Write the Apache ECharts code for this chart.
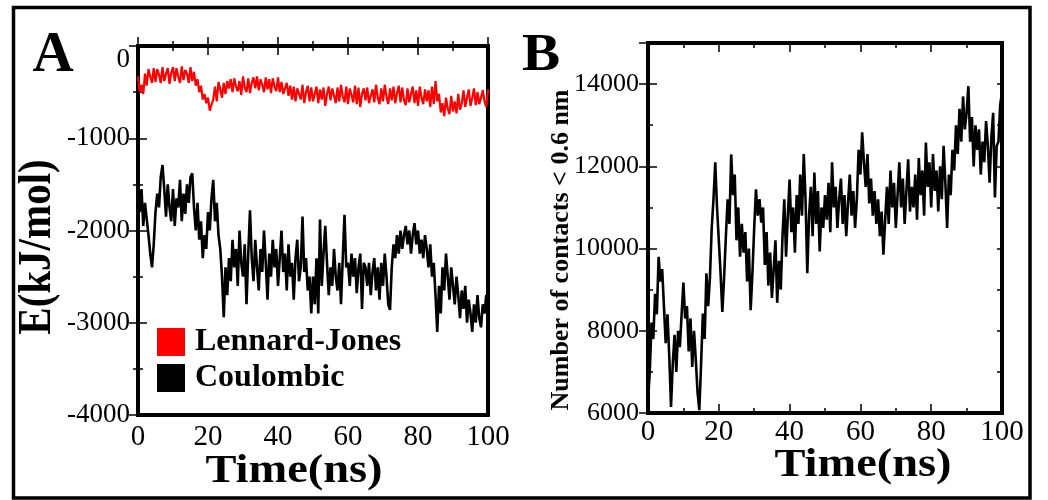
<!DOCTYPE html>
<html>
<head>
<meta charset="utf-8">
<script src="https://cdn.jsdelivr.net/npm/echarts@6/dist/echarts.min.js"></script>
<style>
html,body{margin:0;padding:0;background:#fff;}
#chart{width:1048px;height:500px;}
</style>
</head>
<body>
<div id="chart"></div>
<script>
const TIME_STEP_NS = 0.5;
const xTicks = [0, 20, 40, 60, 80, 100];
const yTicksEnergy = [0, -1000, -2000, -3000, -4000];
const yTicksContacts = [6000, 8000, 10000, 12000, 14000];
const seriesNames = ['Lennard-Jones', 'Coulombic'];

const lennardJones = [
  -330, -500, -420, -520, -300, -430, -250, -330, -400, -240,
  -390, -250, -310, -400, -230, -380, -300, -240, -410, -290,
  -230, -380, -240, -330, -400, -220, -370, -260, -300, -400,
  -230, -380, -280, -430, -360, -500, -430, -580, -520, -620,
  -560, -700, -640, -580, -440, -600, -390, -470, -560, -400,
  -520, -380, -460, -360, -500, -350, -440, -490, -380, -530,
  -330, -450, -500, -350, -510, -400, -340, -460, -330, -480,
  -360, -420, -500, -340, -470, -360, -510, -350, -440, -490,
  -340, -500, -390, -520, -460, -400, -540, -430, -580, -440,
  -600, -460, -520, -580, -420, -620, -500, -430, -600, -450,
  -600, -520, -440, -620, -470, -580, -450, -650, -520, -440,
  -590, -460, -540, -620, -450, -600, -420, -550, -610, -440,
  -630, -460, -530, -610, -430, -630, -450, -660, -520, -460,
  -590, -450, -620, -540, -470, -610, -420, -560, -630, -460,
  -600, -420, -550, -630, -460, -590, -440, -620, -510, -430,
  -610, -450, -590, -640, -460, -610, -520, -440, -620, -480,
  -650, -440, -560, -630, -470, -600, -480, -660, -440, -630,
  -380, -600, -520, -720, -620, -760, -560, -680, -740, -540,
  -710, -600, -730, -520, -690, -620, -480, -660, -560, -470,
  -650, -560, -460, -640, -500, -630, -560, -480, -600, -660,
  -470
];

const coulombic = [
  -1450, -1800, -1550, -1950, -1700, -1880, -2050, -2250, -2400, -2150,
  -1800, -1600, -1750, -1420, -1290, -1550, -1850, -1500, -1750, -1900,
  -1550, -1950, -1650, -1750, -1450, -1900, -1600, -1820, -1500, -1700,
  -1420, -1380, -1750, -2000, -1700, -2100, -1900, -2300, -2050, -2200,
  -1800, -2000, -1650, -1450, -1900, -1700, -2050, -2200, -2500, -2940,
  -2400, -2700, -2300, -2550, -2100, -2400, -2200, -2600, -2000, -2350,
  -2500, -2150, -2800, -2250, -1780, -2300, -2550, -2100, -2400, -2650,
  -2200, -2450, -2000, -2350, -2750, -2250, -2500, -2100, -2400, -2200,
  -2600, -2300, -2000, -2450, -2250, -2650, -2150, -2500, -2350, -2750,
  -2300, -2100, -2550, -2400, -1850, -2450, -2300, -2650, -2500, -2900,
  -2500, -2800, -2300, -2900, -1880, -2600, -2250, -1950, -2350, -2700,
  -2400, -2600, -2200, -2500, -2650, -2350, -2800, -2300, -1830, -2400,
  -2350, -2600, -2250, -2500, -2300, -2680, -2400, -2250, -2850, -2350,
  -2400, -2600, -2350, -2700, -2450, -2300, -2650, -2400, -2750, -2350,
  -2600, -2250, -2500, -2800, -2860, -2400, -2150, -2300, -2050, -2250,
  -2000, -2200, -2050, -1950, -2150, -2000, -2250, -2050, -1920, -2150,
  -2000, -2250, -2100, -2300, -2050, -2200, -2400, -2150, -2500, -2350,
  -2700, -3100, -2600, -2900, -2400, -2650, -2250, -2500, -2750, -2400,
  -2600, -2800, -2500, -2700, -2950, -2650, -2850, -2600, -3000, -2750,
  -2900, -3100, -2800, -3000, -2700, -2950, -3050, -2800, -2900, -2700,
  -2750
];

const contacts = [
  6300, 7000, 8200, 7800, 8900, 8400, 9800, 9200, 9500, 8600,
  7700, 8400, 7400, 6150, 7200, 7900, 7000, 8000, 7600, 8400,
  9170, 8300, 8600, 7500, 8300, 7120, 8000, 7300, 6500, 6070,
  7200, 8420, 7800, 9400, 8600, 9300, 10500, 11200, 12100, 11000,
  10200, 9400, 8460, 9300, 10300, 11200, 10600, 12290, 11300, 11800,
  10200, 11000, 9800, 10600, 9900, 10400, 9200, 10000, 8500, 9400,
  10500, 11440, 10800, 11200, 10630, 11000, 9600, 10400, 9100, 9900,
  8800, 9500, 10200, 8680, 9700, 9000, 10300, 11200, 9800, 10800,
  11680, 10400, 11000, 9900, 11300, 10600, 11800, 10800, 12300, 11200,
  9400, 10800, 11500, 10300, 11850, 10600, 11400, 9930, 11000, 10500,
  11300, 10700, 11600, 10400, 12100, 11000, 11500, 10500, 11200, 11700,
  10600, 11300, 10300, 11100, 11800, 10800, 11400, 10500, 11200, 12400,
  11800, 12830, 12100, 11500, 12300, 11100, 11700, 10800, 11400, 10600,
  11200, 10300, 10900, 9850, 10700, 11500, 10600, 11900, 11000, 11600,
  10500, 11300, 12100, 11000, 11700, 10600, 11400, 12170, 10900, 11500,
  11000, 11800, 10700, 12200, 11300, 11900, 10800, 12580, 11500, 12100,
  11000, 12300, 11400, 11900, 10900, 12000, 11200, 12500, 11600, 10500,
  11800, 11300, 12400, 11900, 13000, 12300, 13400, 12600, 13700, 12900,
  13300, 13950, 12600, 13200, 12000, 13000, 12400, 12900, 11800, 12600,
  12100, 13100, 12500, 11600, 12700, 13300, 11240, 12500, 12600, 13500,
  13800
];

// ---- Build chart ----
const SERIF = '"Liberation Serif", "Times New Roman", serif';
const pairs = arr => arr.map((v, i) => [i * TIME_STEP_NS, v]);
const plain = v => String(v);
const tickStyle = { color: '#000', width: 1.5 };

function xAx(grid, pos, labels, margin) {
  return {
    type: 'value', gridIndex: grid, position: pos,
    min: xTicks[0], max: xTicks[xTicks.length - 1], interval: xTicks[1] - xTicks[0],
    axisLine: { show: false },
    axisTick: { show: true, inside: true, length: 9, lineStyle: tickStyle },
    minorTick: { show: true, splitNumber: 2, length: 5, lineStyle: tickStyle },
    splitLine: { show: false }, minorSplitLine: { show: false },
    axisLabel: { show: labels, color: '#000', fontFamily: SERIF, fontSize: 29, margin: margin || 5, formatter: plain }
  };
}
function yAx(grid, pos, opts) {
  return Object.assign({
    type: 'value', gridIndex: grid, position: pos,
    axisLine: { show: false },
    splitLine: { show: false }, minorSplitLine: { show: false },
  }, opts);
}

const option = {
  animation: false,
  backgroundColor: '#fff',
  grid: [
    { left: 138, top: 46, width: 350, height: 369, show: true, borderColor: '#000', borderWidth: 4, backgroundColor: 'transparent', outerBoundsMode: 'none' },
    { left: 648, top: 43, width: 354, height: 370, show: true, borderColor: '#000', borderWidth: 4, backgroundColor: 'transparent', outerBoundsMode: 'none' }
  ],
  xAxis: [xAx(0, 'bottom', true, 8), xAx(0, 'top', false), xAx(1, 'bottom', true, 5), xAx(1, 'top', false)],
  yAxis: [
    yAx(0, 'left', {
      min: yTicksEnergy[yTicksEnergy.length - 1], max: yTicksEnergy[0], interval: 1000,
      axisTick: { show: true, inside: true, length: 9, lineStyle: tickStyle },
      minorTick: { show: true, splitNumber: 2, length: 5, lineStyle: tickStyle },
      axisLabel: { show: true, color: '#000', fontFamily: SERIF, fontSize: 27, margin: 8, verticalAlignMaxLabel: 'top', formatter: plain }
    }),
    yAx(0, 'right', {
      min: yTicksEnergy[yTicksEnergy.length - 1], max: yTicksEnergy[0], interval: 1000,
      axisTick: { show: true, inside: true, length: 9, lineStyle: tickStyle },
      minorTick: { show: true, splitNumber: 2, length: 5, lineStyle: tickStyle },
      axisLabel: { show: false }
    }),
    yAx(1, 'left', {
      min: yTicksContacts[0], max: 15000, interval: 2000,
      axisTick: { show: true, inside: true, length: 9, lineStyle: tickStyle },
      axisLabel: { show: true, color: '#000', fontFamily: SERIF, fontSize: 26, margin: 9, showMaxLabel: false, formatter: plain }
    }),
    yAx(1, 'right', {
      min: yTicksContacts[0], max: 15000, interval: 2000,
      axisTick: { show: true, inside: true, length: 9, lineStyle: tickStyle },
      axisLabel: { show: false }
    }),
    yAx(1, 'left', {
      min: yTicksContacts[0], max: 15000, interval: 1000,
      axisTick: { show: true, inside: true, length: 5, lineStyle: tickStyle },
      axisLabel: { show: false }
    }),
    yAx(1, 'right', {
      min: yTicksContacts[0], max: 15000, interval: 1000,
      axisTick: { show: true, inside: true, length: 5, lineStyle: tickStyle },
      axisLabel: { show: false }
    })
  ],
  legend: {
    left: 157, top: 326, orient: 'vertical', padding: 0,
    itemWidth: 28, itemHeight: 28, itemGap: 4, icon: 'rect',
    selectedMode: false,
    data: seriesNames,
    textStyle: { color: '#000', fontFamily: SERIF, fontWeight: 'bold', fontSize: 32, lineHeight: 28, padding: [0, 0, 0, 5] }
  },
  series: [
    { name: 'Coulombic', type: 'line', xAxisIndex: 0, yAxisIndex: 0, data: pairs(coulombic),
      showSymbol: false, symbol: 'none', lineStyle: { color: '#000', width: 2.6 }, itemStyle: { color: '#000' } },
    { name: 'Lennard-Jones', type: 'line', xAxisIndex: 0, yAxisIndex: 0, data: pairs(lennardJones),
      showSymbol: false, symbol: 'none', lineStyle: { color: '#ff0000', width: 2.2 }, itemStyle: { color: '#ff0000' } },
    { name: 'Contacts', type: 'line', xAxisIndex: 2, yAxisIndex: 2, data: pairs(contacts),
      showSymbol: false, symbol: 'none', lineStyle: { color: '#000', width: 2.6 }, itemStyle: { color: '#000' } }
  ],
  graphic: [
    { type: 'rect', shape: { x: 13.5, y: 7.5, width: 1016.5, height: 490.5 },
      style: { fill: 'none', stroke: '#000', lineWidth: 3.5 }, silent: true },
    { type: 'text', x: 53, y: 56, style: { text: 'A', font: 'bold 57px ' + SERIF, fill: '#000', align: 'center', verticalAlign: 'middle' } },
    { type: 'text', x: 541, y: 56, scaleX: 1.08, style: { text: 'B', font: 'bold 53px ' + SERIF, fill: '#000', align: 'center', verticalAlign: 'middle' } },
    { type: 'text', x: 37.5, y: 247, rotation: Math.PI / 2, scaleY: 1.15,
      style: { text: 'E(kJ/mol)', font: 'bold 41px ' + SERIF, fill: '#000', align: 'center', verticalAlign: 'middle' } },
    { type: 'text', x: 294, y: 472, scaleX: 1.19,
      style: { text: 'Time(ns)', font: 'bold 39px ' + SERIF, fill: '#000', align: 'center', verticalAlign: 'middle' } },
    { type: 'text', x: 863, y: 466, scaleX: 1.19,
      style: { text: 'Time(ns)', font: 'bold 39px ' + SERIF, fill: '#000', align: 'center', verticalAlign: 'middle' } },
    { type: 'text', x: 561, y: 250, rotation: Math.PI / 2,
      style: { text: 'Number of contacts < 0.6 nm', font: 'bold 26px ' + SERIF, fill: '#000', align: 'center', verticalAlign: 'middle' } }
  ]
};

const chart = echarts.init(document.getElementById('chart'), null, { renderer: 'canvas' });
chart.setOption(option);
</script>
</body>
</html>
